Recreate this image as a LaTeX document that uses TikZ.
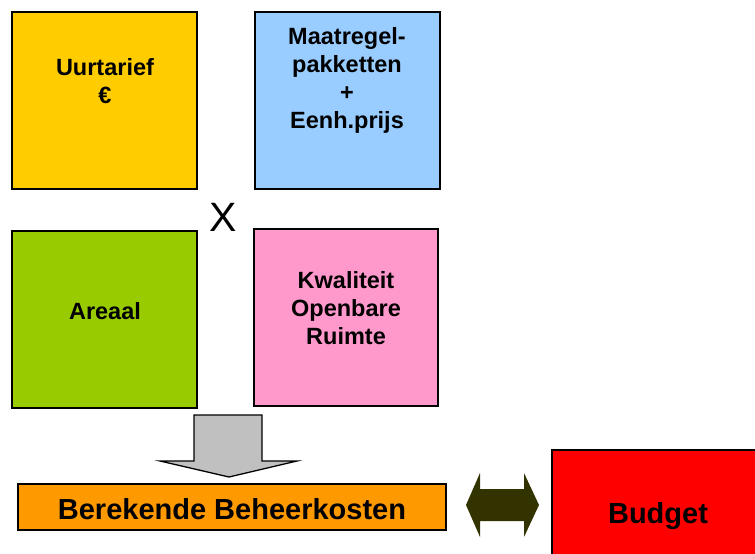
\documentclass[tikz,border=0pt]{standalone}
\usepackage{fontspec}
\setmainfont{Liberation Sans}
\definecolor{cyellow}{HTML}{FFCC00}
\definecolor{cblue}{HTML}{99CCFF}
\definecolor{cgreen}{HTML}{99CC00}
\definecolor{cpink}{HTML}{FF99CC}
\definecolor{corange}{HTML}{FF9900}
\definecolor{cgray}{HTML}{C0C0C0}
\definecolor{colive}{HTML}{333300}
\begin{document}
\begin{tikzpicture}[x=1pt,y=-1pt,
  box/.style={draw=black,line width=2pt},
  lbl/.style={font=\bfseries\fontsize{23.5}{28}\selectfont,align=center,text=black,inner sep=0pt},
  biglbl/.style={lbl,font=\bfseries\fontsize{29}{32}\selectfont}]
\useasboundingbox (0,0) rectangle (755,554);
% boxes
\fill[cyellow] (12,12) rectangle (197,189);
\draw[box] (12,12) rectangle (197,189);
\node[lbl] (uur) at (105,81) {Uurtarief\\€};
\fill[cblue] (255,12) rectangle (440,189);
\draw[box] (255,12) rectangle (440,189);
\node[lbl] (maat) at (347,80) {Maatregel-\\pakketten\\+\\Eenh.prijs};
\node[font=\fontsize{41}{41}\selectfont,inner sep=0pt] (x) at (223,217) {X};
\fill[cgreen] (12,231) rectangle (197,408);
\draw[box] (12,231) rectangle (197,408);
\node[lbl] (are) at (105,311) {Areaal};
\fill[cpink] (254,229) rectangle (438,406);
\draw[box] (254,229) rectangle (438,406);
\node[lbl] (kwa) at (346,308) {Kwaliteit\\Openbare\\Ruimte};
% gray arrow
\draw[fill=cgray,draw=black,line width=1.3pt,line join=miter]
  (194,415) -- (262,415) -- (262,461) -- (297,461) -- (229,477) -- (160,461) -- (194,461) -- cycle;
% orange bar
\fill[corange] (18,484) rectangle (446,530);
\draw[box] (18,484) rectangle (446,530);
\node[biglbl] (ber) at (232,509) {Berekende Beheerkosten};
% double arrow
\fill[colive] (466,505) -- (480,473) -- (480,489) -- (524,489) -- (524,473) -- (539,505) -- (524,537) -- (524,521) -- (480,521) -- (480,537) -- cycle;
% budget
\fill[red] (552,450) rectangle (760,560);
\draw[box] (552,450) rectangle (760,560);
\node[biglbl] (bud) at (658,516) {Budget};
\end{tikzpicture}
\end{document}
